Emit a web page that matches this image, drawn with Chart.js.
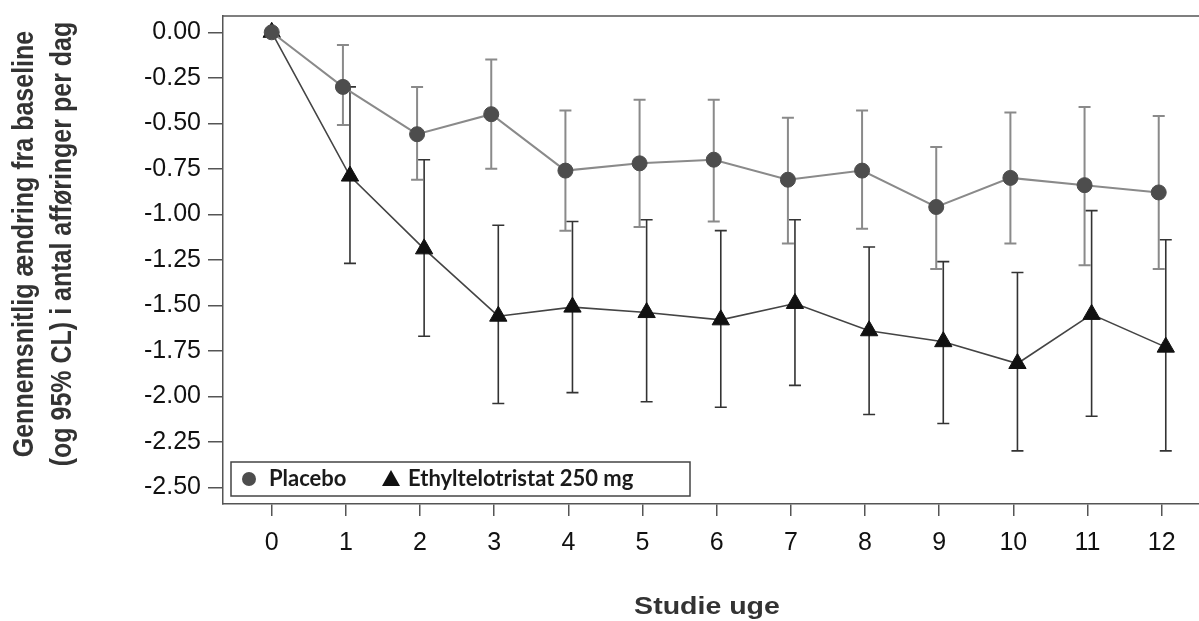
<!DOCTYPE html>
<html>
<head>
<meta charset="utf-8">
<script src="https://cdn.jsdelivr.net/npm/chart.js@4"></script>
<style>
  html, body { margin: 0; padding: 0; background: #fff; }
  #wrap { width: 1199px; height: 621px; position: relative; }
</style>
</head>
<body>
<div id="wrap"><canvas id="chart1"></canvas></div>
<script>
const weeks = [0, 1, 2, 3, 4, 5, 6, 7, 8, 9, 10, 11, 12];
const placeboMean  = [0, -0.30, -0.56, -0.45, -0.76, -0.72, -0.70, -0.81, -0.76, -0.96, -0.80, -0.84, -0.88];
const placeboUpper = [null, -0.07, -0.30, -0.15, -0.43, -0.37, -0.37, -0.47, -0.43, -0.63, -0.44, -0.41, -0.46];
const placeboLower = [null, -0.51, -0.81, -0.75, -1.09, -1.07, -1.04, -1.16, -1.08, -1.30, -1.16, -1.28, -1.30];
const ethylMean  = [0, -0.79, -1.19, -1.56, -1.51, -1.54, -1.58, -1.49, -1.64, -1.70, -1.82, -1.55, -1.73];
const ethylUpper = [null, -0.30, -0.70, -1.06, -1.04, -1.03, -1.09, -1.03, -1.18, -1.26, -1.32, -0.98, -1.14];
const ethylLower = [null, -1.27, -1.67, -2.04, -1.98, -2.03, -2.06, -1.94, -2.10, -2.15, -2.30, -2.11, -2.30];
const yTicks = [0, -0.25, -0.5, -0.75, -1, -1.25, -1.5, -1.75, -2, -2.25, -2.5];
const xTicks = weeks;

const legendLabels = ['Placebo', 'Ethyltelotristat 250 mg'];
const yTitle = ['Gennemsnitlig ændring fra baseline', '(og 95% CL) i antal afføringer per dag'];
const xTitle = 'Studie uge';

// small horizontal dodge so the two groups don't sit on top of each other
const dodge = (i, d) => (i === 0 ? 0 : d);

const placeboPts = weeks.map((w, i) => ({ x: w + dodge(i, -0.04), y: placeboMean[i], up: placeboUpper[i], lo: placeboLower[i] }));
const ethylPts = weeks.map((w, i) => ({ x: w + dodge(i, 0.055), y: ethylMean[i], up: ethylUpper[i], lo: ethylLower[i] }));

const AXIS = '#555';

const errorBars = {
  id: 'errorBars',
  beforeDatasetsDraw(chart) {
    const { ctx, scales: { x, y } } = chart;
    chart.data.datasets.forEach(ds => {
      ctx.save();
      ctx.strokeStyle = ds.errColor;
      ctx.lineWidth = ds.errWidth;
      ds.data.forEach(p => {
        if (p.up == null) return;
        const px = x.getPixelForValue(p.x);
        const yu = y.getPixelForValue(p.up);
        const yl = y.getPixelForValue(p.lo);
        ctx.beginPath();
        ctx.moveTo(px, yu); ctx.lineTo(px, yl);
        ctx.moveTo(px - 6, yu); ctx.lineTo(px + 6, yu);
        ctx.moveTo(px - 6, yl); ctx.lineTo(px + 6, yl);
        ctx.stroke();
      });
      ctx.restore();
    });
  }
};

const frameAndText = {
  id: 'frameAndText',
  afterDraw(chart) {
    const { ctx, chartArea: a } = chart;
    ctx.save();
    // top border of the frame
    ctx.strokeStyle = AXIS;
    ctx.lineWidth = 1.5;
    ctx.beginPath();
    ctx.moveTo(a.left, a.top); ctx.lineTo(chart.width, a.top);
    ctx.stroke();

    // legend box inside the plot
    ctx.strokeStyle = '#444';
    ctx.lineWidth = 1.5;
    ctx.strokeRect(231, 462, 459, 34);
    ctx.fillStyle = '#4d4d4d';
    ctx.beginPath(); ctx.arc(249, 479, 7, 0, Math.PI * 2); ctx.fill();
    ctx.fillStyle = '#111';
    ctx.beginPath();
    ctx.moveTo(391, 470); ctx.lineTo(400, 486); ctx.lineTo(382, 486); ctx.closePath();
    ctx.fill();
    ctx.font = 'bold 22px Lato';
    ctx.fillStyle = '#1a1a1a';
    ctx.textBaseline = 'alphabetic';
    ctx.fillText(legendLabels[0], 269, 486);
    ctx.fillText(legendLabels[1], 408, 486);

    // axis titles (the source figure is stretched, so the glyphs are too)
    ctx.fillStyle = '#333';
    ctx.font = 'bold 25px "Liberation Sans", Arial';
    ctx.textAlign = 'center';
    ctx.textBaseline = 'middle';
    ctx.save();
    ctx.translate(25, 244);
    ctx.rotate(-Math.PI / 2);
    ctx.scale(1, 1.15);
    ctx.fillText(yTitle[0], 0, 0);
    ctx.fillText(yTitle[1], 0, 33);
    ctx.restore();

    ctx.save();
    ctx.translate(707, 608);
    ctx.scale(1.24, 1);
    ctx.font = 'bold 23px "Liberation Sans", Arial';
    ctx.fillText(xTitle, 0, 0);
    ctx.restore();
    ctx.restore();
  }
};

const data1 = {
  datasets: [
    {
      label: legendLabels[0],
      data: placeboPts,
      showLine: true,
      borderColor: '#8a8a8a',
      borderWidth: 2,
      pointStyle: 'circle',
      pointRadius: 7.5,
      pointBackgroundColor: '#4d4d4d',
      pointBorderColor: '#4d4d4d',
      pointBorderWidth: 1,
      errColor: '#8a8a8a',
      errWidth: 2
    },
    {
      label: legendLabels[1],
      data: ethylPts,
      showLine: true,
      borderColor: '#444',
      borderWidth: 1.6,
      pointStyle: 'triangle',
      pointRadius: 10,
      pointBackgroundColor: '#111',
      pointBorderColor: '#111',
      pointBorderWidth: 1,
      errColor: '#333',
      errWidth: 1.6
    }
  ]
};

const config1 = {
  type: 'scatter',
  data: data1,
  options: {
    responsive: true,
    maintainAspectRatio: false,
    animation: false,
    layout: { autoPadding: false, padding: { top: 16, right: 0, left: 0, bottom: 0 } },
    plugins: {
      legend: { display: false },
      tooltip: { enabled: false }
    },
    scales: {
      x: {
        type: 'linear',
        min: -0.657,
        max: 12.503,
        afterBuildTicks: axis => { axis.ticks = xTicks.map(v => ({ value: v })); },
        afterFit: axis => { axis.height = 117; axis.paddingLeft = 0; axis.paddingRight = 0; },
        ticks: {
          color: '#111',
          font: { family: '"Liberation Sans", Arial', size: 25 },
          padding: 12,
          maxRotation: 0,
          callback: v => String(v)
        },
        grid: { drawOnChartArea: false, tickLength: 12, tickColor: AXIS, lineWidth: 1.5 },
        border: { display: true, color: AXIS, width: 1.5 }
      },
      y: {
        min: -2.592,
        max: 0.0896,
        afterBuildTicks: axis => { axis.ticks = yTicks.map(v => ({ value: v })); },
        afterFit: axis => { axis.width = 223; axis.paddingTop = 0; axis.paddingBottom = 0; },
        ticks: {
          color: '#111',
          font: { family: '"Liberation Sans", Arial', size: 25 },
          padding: 7,
          callback: v => v.toFixed(2)
        },
        grid: { drawOnChartArea: false, tickLength: 15, tickColor: AXIS, lineWidth: 1.5 },
        border: { display: true, color: AXIS, width: 1.5 }
      }
    }
  },
  plugins: [errorBars, frameAndText]
};

const chart1 = new Chart(document.getElementById('chart1'), config1);
</script>
</body>
</html>
